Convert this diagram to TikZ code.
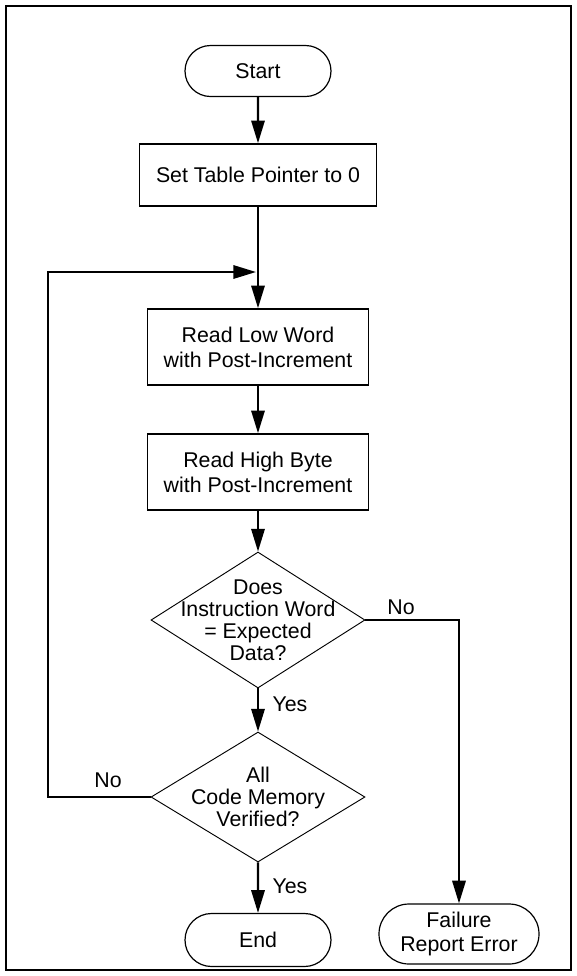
\documentclass[tikz,border=0pt]{standalone}
\usepackage{fontspec}
\setmainfont{Liberation Sans}
\usetikzlibrary{shapes.geometric,shapes.misc,arrows.meta}

\begin{document}
\begin{tikzpicture}[x=0.75pt,y=0.75pt,yscale=-1,xscale=1,
  every node/.style={font=\fontsize{16}{18.7}\selectfont},
  procbox/.style={draw,line width=1.2pt,align=center,inner sep=0pt},
  termbox/.style={draw,rounded rectangle,line width=0.9pt,align=center,inner sep=0pt},
  decbox/.style={draw,diamond,line width=0.7pt,inner sep=0pt},
  flow/.style={line width=1.6pt,-{Triangle[length=17pt,width=10pt]}},
  lbl/.style={inner sep=0pt}]
\useasboundingbox (0,0) rectangle (577,976);

%Frame
\draw [line width=1.5pt] (6,6) rectangle (571,970);

%Shape: Terminal
\node [termbox, minimum width=109.5pt, minimum height=38.25pt] (start) at (258,71) {Start};
%Shape: Rectangle
\node [procbox, minimum width=177.75pt, minimum height=46.5pt] (settbl) at (258,175) {Set Table Pointer to 0};
%Shape: Rectangle
\node [procbox, minimum width=165.75pt, minimum height=57pt] (readlow) at (258,347) {Read Low Word\\with Post-Increment};
%Shape: Rectangle
\node [procbox, minimum width=165.75pt, minimum height=57pt] (readhigh) at (258,472) {Read High Byte\\with Post-Increment};
%Shape: Diamond
\node [decbox, minimum width=160.5pt, minimum height=102pt,
  label={[align=center,font=\fontsize{16}{16.4}\selectfont]center:Does\\Instruction Word\\= Expected\\Data?}] (dec1) at (258,620) {};
%Shape: Diamond
\node [decbox, minimum width=160.5pt, minimum height=97.5pt,
  label={[align=center,font=\fontsize{16}{16.4}\selectfont]center:All\\Code Memory\\Verified?}] (dec2) at (258,797) {};
%Shape: Terminal
\node [termbox, minimum width=109.5pt, minimum height=39.75pt] (stop) at (258,940) {End};
%Shape: Terminal
\node [termbox, minimum width=120pt, minimum height=45pt] (fail) at (459,934) {Failure\\Report Error};

%Loop points
\coordinate (lpbot) at (48,797);
\coordinate (lptop) at (48,272);
\coordinate (join) at (256,272);

%Connectors
\draw [flow] (start) -- (settbl);
\draw [flow] (settbl) -- (readlow);
\draw [flow] (readlow) -- (readhigh);
\draw [flow] (readhigh) -- (dec1);
\draw [flow] (dec1) -- (dec2);
\draw [flow] (dec2) -- (stop);
\draw [flow] (dec1.east) -| (fail.north);
\draw [flow] (dec2.west) -- (lpbot) -- (lptop) -- (join);

% Text Node
\node [lbl] (no1) at (401,607) {No};
% Text Node
\node [lbl] (yes1) at (290,704) {Yes};
% Text Node
\node [lbl] (no2) at (108,780) {No};
% Text Node
\node [lbl] (yes2) at (290,886) {Yes};

\end{tikzpicture}
\end{document}
